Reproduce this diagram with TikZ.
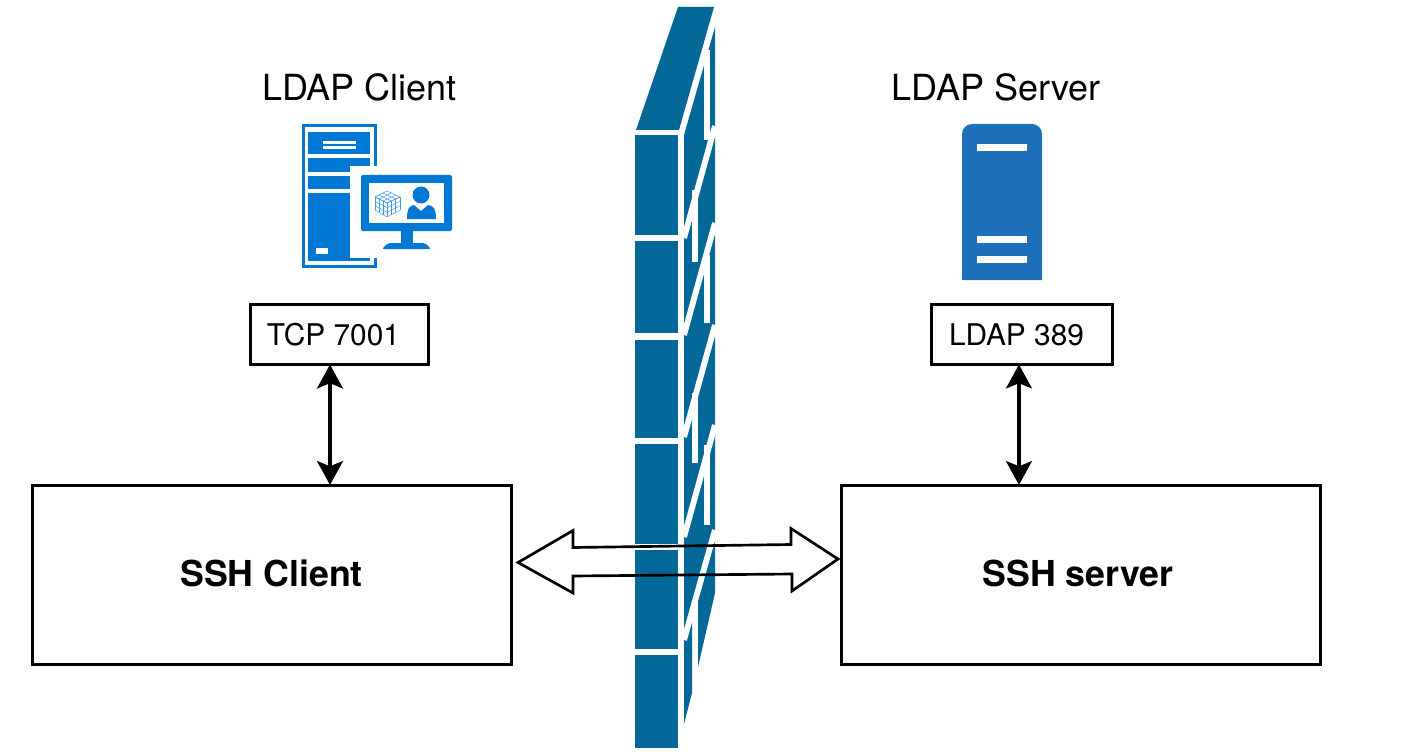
\documentclass[tikz,border=0pt]{standalone}
\usepackage{fontspec}
\setmainfont{TeX Gyre Heros}
\usetikzlibrary{positioning,arrows.meta,calc}
\definecolor{wallblue}{HTML}{036897}
\definecolor{clientblue}{HTML}{0078D4}
\definecolor{serverblue}{HTML}{1F70BB}
\tikzset{
    box/.style={draw, line width=2.25pt, inner sep=0pt, outer sep=0pt},
    smallbox/.style={box, minimum height=45pt, font=\fontsize{22.4}{26}\selectfont},
    sshbox/.style={box, minimum width=359.25pt, minimum height=134.25pt, text depth=2pt, font=\fontsize{26.8}{30}\selectfont\bfseries},
    title/.style={inner sep=0pt, font=\fontsize{27}{30}\selectfont},
    biarrow/.style={line width=2.4pt, <->, >={Stealth[length=18pt,width=19.5pt,inset=4pt]}},
    blockarrow/.style={line width=2pt, line join=miter},
    wallgap/.style={draw=white, line width=4.4pt}
}
\begin{document}
\begin{tikzpicture}[x=0.75pt, y=-0.75pt]
    \useasboundingbox (0,0) rectangle (1413,756);

    % firewall
    \fill[wallblue] (636,130) -- (679,130) -- (714,7) -- (678,7) -- cycle;
    \foreach \ya/\yb in {135/235, 241/333, 340/438, 444/544, 550/649, 655/748}
        \fill[wallblue] (635,\ya) rectangle (678,\yb);
    \fill[wallblue] (684,135) -- (715,27) -- (715,593) -- (698,667) -- (698,600)
        -- (692,600) -- (692,693) -- (684,724) -- cycle;
    \foreach \yl/\yr in {238/126, 335/223, 437/325, 537/425, 640/530}
        \draw[wallgap] (684,\yl) -- (715,\yr);
    \foreach \xg/\ya/\yb in {707/50/140, 695/190/262, 707/255/323, 695/393/463, 707/445/525}
        \draw[wallgap] (\xg,\ya) -- (\xg,\yb);

    % main boxes
    \node[sshbox] (sshclient) at (271.5,574.5) {SSH Client};
    \node[sshbox, right=247.5pt of sshclient] (sshserver) {SSH server\hspace*{3.75pt}};
    \node[smallbox, minimum width=133.5pt] (tcpbox) at (339,334.5) {TCP 7001\hspace*{8.25pt}};
    \node[smallbox, minimum width=135.75pt] (ldapbox) at (1021.5,334.5) {LDAP 389\hspace*{7.5pt}};
    \node[title] (clienttitle) at (359.5,87) {LDAP Client};
    \node[title] (servertitle) at (996,87) {LDAP Server};

    \draw[biarrow] ([xshift=-6.75pt]tcpbox.south) -- ([xshift=-6.75pt]tcpbox.south |- sshclient.north);
    \draw[biarrow] ([xshift=-1.9pt]ldapbox.south) -- ([xshift=-1.9pt]ldapbox.south |- sshserver.north);

    \draw[blockarrow] ($(sshclient.east)+(7,-12)$) -- ++(55,-32) -- ++(0,17) -- ++(218,-3) -- ++(0,-16)
        -- ($(sshserver.west)+(-3,-15.5)$) -- ++(-46,32) -- ++(0,-17) -- ++(-219,2) -- ++(0,17) -- cycle;

    % client icon
    \draw[clientblue, line width=2.25pt] (303.5,125.5) rectangle (375.5,266.5);
    \fill[clientblue] (308,132) rectangle (370,154);
    \fill[clientblue] (308,158) rectangle (370,172);
    \fill[clientblue] (308,176) rectangle (370,189);
    \fill[clientblue] (308,193) rectangle (370,261);
    \fill[white] (323,141) rectangle (356,144);
    \fill[white] (323,146) rectangle (356,149);
    \fill[white] (316,248) rectangle (328,254);
    \fill[white] (350,166) rectangle (379,257.5);
    \fill[clientblue, rounded corners=1.5pt] (361,175) rectangle (452,231);
    \fill[white] (369,183) rectangle (444,223);
    \fill[clientblue] (401,231) rectangle (413,243);
    \fill[clientblue, rounded corners=1.5pt] (382,249) -- (388,243) -- (425,243) -- (431,249) -- cycle;
    \fill[clientblue] (421,195) circle (8.5);
    \fill[clientblue] (407,219) .. controls (407,209) and (409,206) .. (414,205)
        -- (421,211) -- (428,205) .. controls (434,206) and (436,209) .. (436,219) -- cycle;
    \foreach \t in {0,0.33,0.67,1} {
        \draw[clientblue!75, line width=0.35pt] ($(375,197)!\t!(387,203)$) -- ($(387,191)!\t!(400,197)$);
        \draw[clientblue!75, line width=0.35pt] ($(387,191)!\t!(375,197)$) -- ($(400,197)!\t!(387,203)$);
        \draw[clientblue!75, line width=0.35pt] ($(375,197)!\t!(387,203)$) -- ($(375,210)!\t!(387,217)$);
        \draw[clientblue!75, line width=0.35pt] ($(387,203)!\t!(400,197)$) -- ($(387,217)!\t!(400,210)$);
        \draw[clientblue!75, line width=0.35pt] ($(375,197)!\t!(375,210)$) -- ($(387,203)!\t!(387,217)$);
        \draw[clientblue!75, line width=0.35pt] ($(387,203)!\t!(387,217)$) -- ($(400,197)!\t!(400,210)$);
    }

    % server icon
    \fill[serverblue] (962,280) [rounded corners=7.5pt] -- (962,124) -- (1042,124) [sharp corners] -- (1042,280) -- cycle;
    \foreach \ya/\yb in {144/151, 236/243, 256/263}
        \fill[white] (977,\ya) rectangle (1027,\yb);
\end{tikzpicture}
\end{document}
